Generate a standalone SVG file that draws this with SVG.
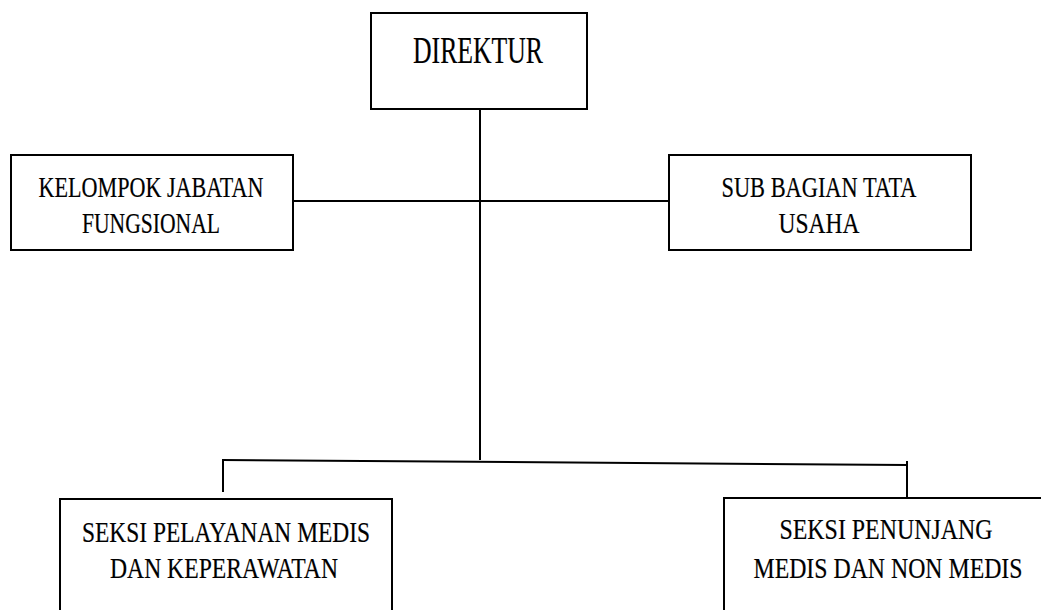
<svg xmlns="http://www.w3.org/2000/svg" width="1041" height="610" viewBox="0 0 1041 610">
<style>
.box{fill:#fff;stroke:#000;stroke-width:2}
.ln{fill:none;stroke:#000;stroke-width:2}
.t{font-size:30px}
.big{font-size:37px}
</style>
<rect width="1041" height="610" fill="#fff"/>
<g id="connectors">
<line class="ln" x1="480" y1="109" x2="480" y2="460"/>
<line class="ln" x1="293" y1="201" x2="669" y2="201"/>
<line class="ln" x1="222" y1="460" x2="907" y2="465"/>
<line class="ln" x1="223" y1="460" x2="223" y2="492"/>
<line class="ln" x1="907" y1="461" x2="907" y2="498"/>
</g>
<g font-family="Liberation Serif, 'Times New Roman', serif" text-anchor="middle" fill="#000" stroke="#000" stroke-width="0.2">
<g id="direktur">
<rect class="box" x="371" y="13" width="216" height="96"/>
<text class="big" x="478" y="63" textLength="130" lengthAdjust="spacingAndGlyphs">DIREKTUR</text>
</g>
<g id="kelompok">
<rect class="box" x="11" y="155" width="282" height="95"/>
<text class="t" x="151" y="197" textLength="225" lengthAdjust="spacingAndGlyphs">KELOMPOK JABATAN</text>
<text class="t" x="151" y="233" textLength="138" lengthAdjust="spacingAndGlyphs">FUNGSIONAL</text>
</g>
<g id="subbagian">
<rect class="box" x="669" y="155" width="302" height="95"/>
<text class="t" x="819" y="197" textLength="195" lengthAdjust="spacingAndGlyphs">SUB BAGIAN TATA</text>
<text class="t" x="819" y="233" textLength="81" lengthAdjust="spacingAndGlyphs">USAHA</text>
</g>
<g id="pelayanan">
<rect class="box" x="60" y="499" width="332" height="130"/>
<text class="t" x="226" y="542" textLength="288" lengthAdjust="spacingAndGlyphs">SEKSI PELAYANAN MEDIS</text>
<text class="t" x="224" y="578" textLength="228" lengthAdjust="spacingAndGlyphs">DAN KEPERAWATAN</text>
</g>
<g id="penunjang">
<rect class="box" x="724" y="498" width="340" height="130"/>
<text class="t" x="886" y="539" textLength="213" lengthAdjust="spacingAndGlyphs">SEKSI PENUNJANG</text>
<text class="t" x="888" y="578" textLength="269" lengthAdjust="spacingAndGlyphs">MEDIS DAN NON MEDIS</text>
</g>
</g>
</svg>
